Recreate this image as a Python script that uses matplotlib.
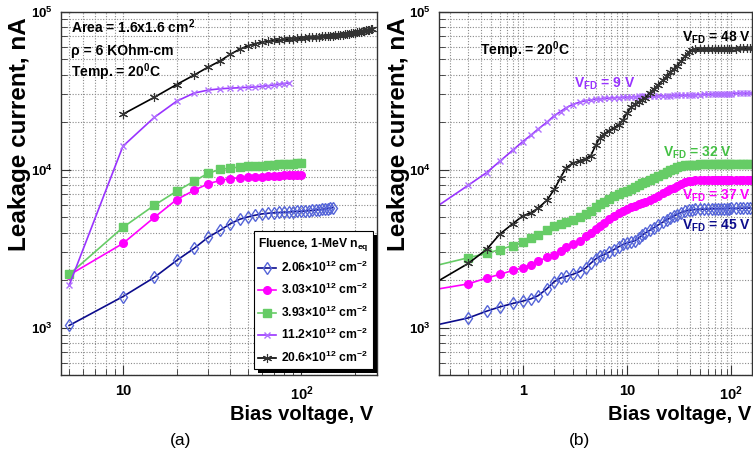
import matplotlib
matplotlib.use('Agg')
import matplotlib.pyplot as plt
from matplotlib.ticker import FixedLocator, FixedFormatter, LogLocator, NullFormatter
from matplotlib.patches import Rectangle
from matplotlib.transforms import IdentityTransform

plt.rcParams['font.family'] = ['Liberation Sans', 'DejaVu Sans']
plt.rcParams['font.weight'] = 'bold'
plt.rcParams['mathtext.fontset'] = 'custom'
plt.rcParams['mathtext.rm'] = 'Liberation Sans:bold'
plt.rcParams['mathtext.it'] = 'Liberation Sans:bold'
plt.rcParams['mathtext.bf'] = 'Liberation Sans:bold'
plt.rcParams['mathtext.default'] = 'rm'

W, H = 753, 459

# ---- panel (a): current vs bias for 5 fluences ----
v_a = [5, 10, 15, 20, 25, 30, 35, 40, 45, 50,
       55, 60, 65, 70, 75, 80, 85, 90, 95, 100,
       105, 110, 115, 120, 125, 130, 135, 140, 145, 150]
v_a_black = [10, 15, 20, 25, 30, 35, 40, 45, 50, 55,
             60, 65, 70, 75, 80, 85, 90, 95, 100, 105,
             110, 115, 120, 125, 130, 135, 140, 145, 150, 155,
             160, 165, 170, 175, 180, 185, 190, 195, 200, 205,
             210, 215, 220, 225, 230, 235, 240, 245, 250]

i_a_206 = [1030, 1570, 2080, 2660, 3170, 3730, 4130, 4550, 4850, 5020,
           5150, 5250, 5300, 5330, 5360, 5380, 5400, 5420, 5440, 5460,
           5480, 5500, 5520, 5550, 5580, 5610, 5640, 5680, 5720, 5760]
i_a_303 = [2150, 3410, 4990, 6470, 7400, 8150, 8550, 8800, 8900, 8970,
           9020, 9060, 9100, 9140, 9180, 9210, 9240, 9270, 9300, 9330]
i_a_393 = [2170, 4310, 5960, 7310, 8450, 9500, 10050, 10250, 10400, 10500,
           10580, 10640, 10700, 10750, 10800, 10850, 10890, 10930, 10970, 11000]
i_a_112 = [1850, 14100, 21500, 27200, 30600, 32000, 32600, 32900, 33100, 33300,
           33500, 33800, 34100, 34400, 34800, 35200, 35500]
i_a_206b = [22500, 28800, 34700, 39800, 44700, 48900, 54000, 58000, 61000, 63000,
            64500, 65300, 66000, 66500, 67000, 67400, 67800, 68100, 68400, 68700,
            69000, 69300, 69500, 69800, 70000, 70200, 70400, 70600, 70800, 71100,
            71400, 71700, 72000, 72300, 72600, 72900, 73200, 73500, 73800, 74200,
            74600, 75000, 75400, 75900, 76400, 76900, 77400, 77800, 78200]

legend_labels = ['2.06×10$^{12}$ cm$^{-2}$', '3.03×10$^{12}$ cm$^{-2}$',
                 '3.93×10$^{12}$ cm$^{-2}$', '11.2×10$^{12}$ cm$^{-2}$',
                 '20.6×10$^{12}$ cm$^{-2}$']

# ---- panel (b): low-voltage scan ----
v_b = [0.15, 0.3, 0.45, 0.6, 0.8, 1.0, 1.2, 1.4, 1.7, 2.0,
       2.3, 2.6, 3.0, 3.5, 4.0, 4.5, 5.0, 5.5, 6.0, 6.7,
       7.5, 8.3, 9.2, 10, 11, 12, 13, 14, 15, 16.5,
       18, 20, 22, 24, 26, 28, 30, 33, 36, 39,
       42, 45, 50, 55, 60, 65, 70, 75, 80, 85,
       90, 95, 100, 110, 120, 130, 140, 150]

i_b_vfd9 = [5850, 7980, 9600, 11300, 13300, 15100, 16600, 18100, 20000, 22000,
            23400, 24700, 25900, 26800, 27400, 27700, 28000, 28200, 28300, 28500,
            28600, 28700, 28800, 28900, 29000, 29100, 29150, 29200, 29250, 29300,
            29350, 29400, 29450, 29500, 29550, 29600, 29650, 29700, 29750, 29800,
            29850, 29900, 29950, 30000, 30050, 30100, 30150, 30200, 30250, 30300,
            30300, 30350, 30400, 30450, 30500, 30550, 30600, 30650]
i_b_vfd48 = [1950, 2550, 3130, 3900, 4550, 5100, 5350, 5700, 6400, 7500,
             8900, 10300, 11000, 11400, 11750, 12300, 14300, 16000, 16800, 17700,
             18400, 19300, 20800, 23000, 25000, 26100, 26900, 27600, 28600, 30700,
             32400, 34700, 36800, 39100, 41400, 43500, 45600, 48800, 52600, 55700,
             57300, 58000, 58300, 58300, 58400, 58400, 58400, 58500, 58500, 58500,
             58500, 58600, 58600, 58600, 58700, 58700, 58800, 58800]
i_b_vfd32 = [2480, 2770, 2950, 3120, 3300, 3480, 3680, 3880, 4130, 4380,
             4550, 4650, 4800, 5000, 5250, 5500, 5800, 6050, 6250, 6550,
             6800, 7000, 7200, 7350, 7550, 7800, 8000, 8200, 8350, 8600,
             8850, 9150, 9450, 9700, 9950, 10150, 10350, 10550, 10650, 10700,
             10750, 10780, 10800, 10800, 10810, 10820, 10830, 10840, 10850, 10850,
             10860, 10860, 10870, 10870, 10880, 10880, 10890, 10900]
i_b_vfd37 = [1750, 1890, 2060, 2170, 2300, 2400, 2500, 2630, 2780, 2900,
             3050, 3230, 3370, 3550, 3800, 4000, 4200, 4400, 4600, 4850,
             5100, 5300, 5500, 5620, 5780, 5900, 6050, 6150, 6250, 6400,
             6600, 6850, 7100, 7300, 7500, 7700, 7900, 8150, 8350, 8450,
             8520, 8550, 8560, 8560, 8570, 8570, 8570, 8580, 8580, 8580,
             8580, 8590, 8590, 8590, 8600, 8600, 8600, 8600]
i_b_vfd45 = [1040, 1150, 1270, 1350, 1420, 1470, 1520, 1590, 1760, 1950,
             2060, 2110, 2170, 2260, 2380, 2560, 2720, 2830, 2900, 3000,
             3120, 3250, 3360, 3430, 3500, 3560, 3700, 3850, 3980, 4130,
             4280, 4480, 4650, 4820, 4950, 5080, 5200, 5350, 5460, 5530,
             5570, 5600, 5620, 5630, 5640, 5650, 5660, 5660, 5670, 5670,
             5680, 5680, 5690, 5690, 5700, 5700, 5710, 5720]

# styles: navy diamonds, magenta circles, green squares, violet x, black asterisks
NAVY, MAG, GRN, VIO = '#0c0c8c', '#ff00ff', '#66cc66', '#9933ff'
st_blue = dict(color=NAVY, marker='d', mfc='none', mec='#5565d8', mew=1.0, ms=6, lw=1.2)
st_mag = dict(color=MAG, marker='o', mfc=MAG, mec=MAG, ms=5.5, lw=1.2)
st_grn = dict(color=GRN, marker='s', mfc=GRN, mec=GRN, ms=5.5, lw=1.2)
st_vio = dict(color=VIO, marker='x', mec='#b070ff', mew=1.0, ms=5, lw=1.2)
st_blk = dict(color='black', marker=(6, 2, 0), mec='#333333', mew=0.8, ms=6.5, lw=1.2)

fig = plt.figure(figsize=(W / 100, H / 100), dpi=100, facecolor='white')


def add_ax(left, top, right, bottom):
    return fig.add_axes([left / W, 1 - bottom / H, (right - left) / W, (bottom - top) / H])


def ftext(x, y, s, **kw):
    return fig.text(x / W, 1 - y / H, s, **kw)


def style_axes(ax, xlim, xticks, xlabels):
    ax.set_xscale('log')
    ax.set_yscale('log')
    ax.set_xlim(*xlim)
    ax.set_ylim(500, 1e5)
    ax.xaxis.set_major_locator(FixedLocator(xticks))
    ax.xaxis.set_major_formatter(FixedFormatter(xlabels))
    ax.xaxis.set_minor_locator(LogLocator(base=10, subs=range(2, 10)))
    ax.xaxis.set_minor_formatter(NullFormatter())
    ax.yaxis.set_major_locator(FixedLocator([1e3, 1e4, 1e5]))
    ax.yaxis.set_major_formatter(FixedFormatter(['$10^{3}$', '$10^{4}$', '$10^{5}$']))
    ax.yaxis.set_minor_locator(LogLocator(base=10, subs=range(2, 10)))
    ax.yaxis.set_minor_formatter(NullFormatter())
    ax.grid(which='both', color='#8a8a8a', lw=0.8, ls=(0, (1, 1.5)))
    ax.tick_params(which='both', direction='in', top=False, right=False, color='#333333')
    ax.tick_params(which='major', length=7)
    ax.tick_params(which='minor', length=4)
    ax.tick_params(axis='x', labelsize=10.5, pad=6.5)
    ax.tick_params(axis='y', labelsize=9.5, pad=6)
    for sp in ax.spines.values():
        sp.set_color('#333333')
        sp.set_linewidth(1.0)


# ---------------- panel (a) ----------------
ax1 = add_ax(61, 12, 377, 375)
style_axes(ax1, (4.5, 265), [10, 100], ['10', '$10^{2}$'])
h1, = ax1.plot(v_a, i_a_206, **st_blue)
h2, = ax1.plot(v_a[:len(i_a_303)], i_a_303, **st_mag)
h3, = ax1.plot(v_a[:len(i_a_393)], i_a_393, **st_grn)
h4, = ax1.plot(v_a[:len(i_a_112)], i_a_112, **st_vio)
h5, = ax1.plot(v_a_black, i_a_206b, **st_blk)

leg = ax1.legend([h1, h2, h3, h4, h5], legend_labels,
                 title='Fluence, 1-MeV n$_{eq}$', loc='lower right',
                 bbox_to_anchor=((373 - 61) / 316, (375 - 369) / 363),
                 borderaxespad=0, fontsize=8.7, title_fontsize=8.7, alignment='left',
                 frameon=True, fancybox=False, edgecolor='black', framealpha=1,
                 labelspacing=0.6, handlelength=1.5, handletextpad=0.4, borderpad=0.35)
leg.get_frame().set_linewidth(0.8)

ftext(71, 33, 'Area = 1.6x1.6 cm$^{2}$', fontsize=10)
ftext(71, 55, 'ρ = 6 KOhm-cm', fontsize=10)
ftext(71, 77, 'Temp. = 20$^{0}$C', fontsize=10)

ftext(20, 134.5, 'Leakage current, nA', rotation=90, ha='center', va='center', fontsize=17.5)
ftext(373, 414, 'Bias voltage, V', ha='right', va='center', fontsize=14.5)
ftext(181, 440, '(a)', ha='center', va='center', fontsize=12.5, fontweight='normal')

# ---------------- panel (b) ----------------
ax2 = add_ax(439, 12, 752, 375)
style_axes(ax2, (0.157, 158), [1, 10, 100], ['1', '10', '$10^{2}$'])
mk = slice(1, None)
ax2.plot(v_b, i_b_vfd45, markevery=mk, **st_blue)
ax2.plot(v_b, i_b_vfd37, markevery=mk, **st_mag)
ax2.plot(v_b, i_b_vfd32, markevery=mk, **st_grn)
ax2.plot(v_b, i_b_vfd9, markevery=mk, **st_vio)
ax2.plot(v_b, i_b_vfd48, markevery=mk, **st_blk)

ftext(480, 55, 'Temp. = 20$^{0}$C', fontsize=10)
ftext(751, 42, 'V$_{FD}$ = 48 V', ha='right', fontsize=10, color='black')
ftext(574, 88, 'V$_{FD}$ = 9 V', fontsize=10, color=VIO)
ftext(663, 157, 'V$_{FD}$ = 32 V', fontsize=10, color='#44c044')
ftext(751, 200, 'V$_{FD}$ = 37 V', ha='right', fontsize=10, color=MAG)
ftext(751, 230, 'V$_{FD}$ = 45 V', ha='right', fontsize=10, color=NAVY)

ftext(399, 134.5, 'Leakage current, nA', rotation=90, ha='center', va='center', fontsize=17.5)
ftext(751, 414, 'Bias voltage, V', ha='right', va='center', fontsize=14.5)
ftext(579, 440, '(b)', ha='center', va='center', fontsize=12.5, fontweight='normal')

# black drop shadow under the legend box (ROOT style)
fig.canvas.draw()
bb = leg.get_window_extent()
shadow = Rectangle((bb.x0 + 4, bb.y0 - 4), bb.width, bb.height, transform=IdentityTransform(),
                   facecolor='black', edgecolor='none', zorder=leg.get_zorder() - 0.1, clip_on=False)
ax1.add_artist(shadow)

fig.savefig('out.png', dpi=100, facecolor='white')
